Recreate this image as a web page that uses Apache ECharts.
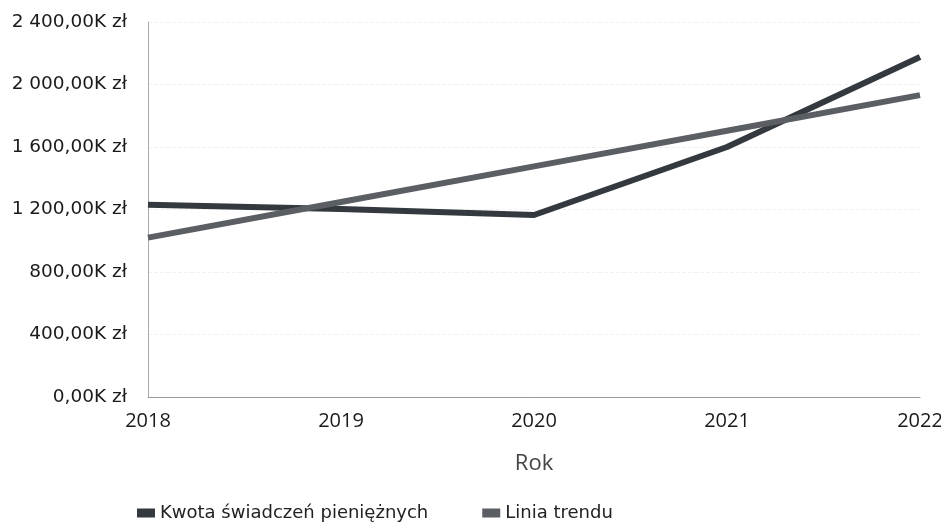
<!DOCTYPE html>
<html><head><meta charset="utf-8">
<script src="https://cdn.jsdelivr.net/npm/echarts@6/dist/echarts.min.js"></script>
<style>html,body{margin:0;padding:0;background:#fff}#c{width:941px;height:524px}</style>
</head><body><div id="c"></div>
<script>
var years = ['2018', '2019', '2020', '2021', '2022'];
var kwota = [1230, 1203, 1165, 1600, 2176];
var trend = [1020, 1248, 1476, 1704, 1932];
var seriesNames = ['Kwota świadczeń pieniężnych', 'Linia trendu'];
var xTitle = 'Rok';

function fmt(v) {
  var s = v.toFixed(2).split('.');
  var intPart = s[0].replace(/\B(?=(\d{3})+(?!\d))/g, ' ');
  return intPart + ',' + s[1] + 'K zł';
}
var FONT = '"Open Sans", "Noto Sans", sans-serif';
var FONT2 = '"DejaVu Sans", sans-serif';
var chart = echarts.init(document.getElementById('c'));
chart.setOption({
  animation: false,
  backgroundColor: '#fff',
  grid: { left: 148, right: 21, top: 22, bottom: 127, outerBoundsMode: 'none', containLabel: false },
  legend: {
    data: [{name: seriesNames[0], icon: 'rect'}, {name: seriesNames[1], icon: 'rect'}],
    left: 132, top: 499, itemWidth: 18, itemHeight: 9, itemGap: 54,
    textStyle: { fontFamily: FONT2, fontSize: 18, color: '#222' }
  },
  xAxis: {
    type: 'category', data: years, boundaryGap: false,
    name: xTitle, nameLocation: 'middle', nameGap: 56,
    nameTextStyle: { fontFamily: FONT, fontSize: 22, color: '#444' },
    axisLine: { lineStyle: { color: '#999', width: 1 } },
    axisTick: { show: false },
    axisLabel: { fontFamily: FONT, fontSize: 20, color: '#1a1a1a', margin: 14 },
    splitLine: { show: false }
  },
  yAxis: {
    type: 'value', min: 0, max: 2400, interval: 400,
    axisLine: { show: true, lineStyle: { color: '#aaa', width: 1 } },
    axisTick: { show: false },
    axisLabel: { fontFamily: FONT2, fontSize: 18.5, color: '#1a1a1a', margin: 21, formatter: fmt },
    splitLine: { show: true, lineStyle: { color: '#f0f0f0', type: 'dashed', width: 1 } }
  },
  series: [
    { name: seriesNames[0], type: 'line', data: kwota, symbol: 'none',
      lineStyle: { color: '#33393e', width: 6 }, itemStyle: { color: '#33393e' } },
    { name: seriesNames[1], type: 'line', data: trend, symbol: 'none',
      lineStyle: { color: '#5b5f63', width: 6 }, itemStyle: { color: '#5b5f63' } }
  ]
});
</script></body></html>
